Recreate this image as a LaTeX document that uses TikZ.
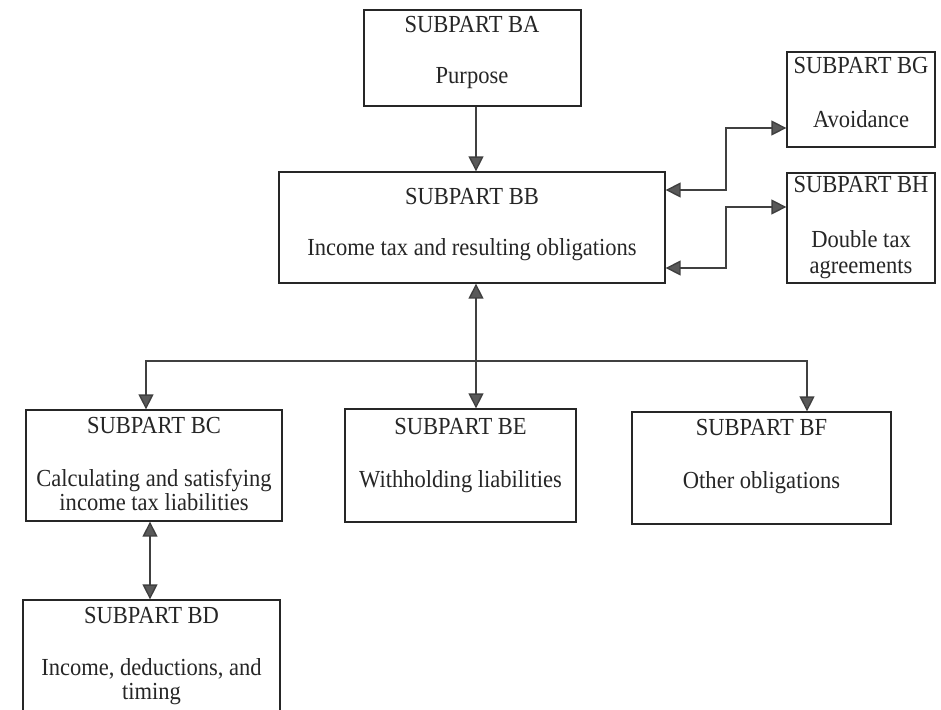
\documentclass[tikz,border=0pt]{standalone}
\usepackage{fontspec}
\setmainfont[FakeStretch=0.92]{Liberation Serif}
\usetikzlibrary{arrows.meta,calc}
\tikzset{
  box/.style={draw=black!85, line width=1.3pt, rectangle, inner sep=0pt},
  txt/.style={anchor=base, inner sep=0pt, text=black!85, font=\fontsize{24.5}{28}\selectfont},
  conn/.style={draw=black!75, line width=1.4pt},
  tri/.tip={Triangle[length=15pt,width=15pt,fill=black!65]}
}
\begin{document}
\begin{tikzpicture}[x=1pt,y=-1pt]
\clip (0,0) rectangle (941,709);
\fill[white] (0,0) rectangle (941,709);
% boxes
\node[box, minimum width=217pt, minimum height=96pt] (ba) at (472.5,58) {};
\node[box, minimum width=386pt, minimum height=111pt] (bb) at (472,227.5) {};
\node[box, minimum width=148pt, minimum height=95pt] (bg) at (861,99.5) {};
\node[box, minimum width=148pt, minimum height=110pt] (bh) at (861,228) {};
\node[box, minimum width=256pt, minimum height=111pt] (bc) at (154,465.5) {};
\node[box, minimum width=231pt, minimum height=113pt] (be) at (460.5,465.5) {};
\node[box, minimum width=259pt, minimum height=112pt] (bf) at (761.5,468) {};
\node[box, minimum width=257pt, minimum height=120pt] (bd) at (151.5,660) {};
% texts
\node[txt] (ba1) at (472,33) {SUBPART BA};
\node[txt] (ba2) at (472,83) {Purpose};
\node[txt] (bb1) at (472,204) {SUBPART BB};
\node[txt] (bb2) at (472,255) {Income tax and resulting obligations};
\node[txt] (bg1) at (861,74) {SUBPART BG};
\node[txt] (bg2) at (861,127) {Avoidance};
\node[txt] (bh1) at (861,192) {SUBPART BH};
\node[txt] (bh2) at (861,247) {Double tax};
\node[txt] (bh3) at (861,273) {agreements};
\node[txt] (bc1) at (154,433) {SUBPART BC};
\node[txt] (bc2) at (154,486) {Calculating and satisfying};
\node[txt] (bc3) at (154,510) {income tax liabilities};
\node[txt] (be1) at (460.5,434) {SUBPART BE};
\node[txt] (be2) at (460.5,487) {Withholding liabilities};
\node[txt] (bf1) at (761.5,435) {SUBPART BF};
\node[txt] (bf2) at (761.5,488) {Other obligations};
\node[txt] (bd1) at (151.5,623) {SUBPART BD};
\node[txt] (bd2) at (151.5,675) {Income, deductions, and};
\node[txt] (bd3) at (151.5,699) {timing};
% helper coordinates
\coordinate (vx) at (476,0);
\coordinate (jx) at (726,0);
\coordinate (g1) at (0,190);
\coordinate (g2) at (0,128);
\coordinate (h1) at (0,268);
\coordinate (h2) at (0,207);
\coordinate (bus) at (476,361);
\coordinate (bcx) at (146,0);
\coordinate (bfx) at (807,0);
\coordinate (cdx) at (150,0);
% connectors
\draw[conn,-{tri}] (ba.south -| vx) -- (bb.north -| vx);
\draw[conn,{tri}-{tri}] (bb.east |- g1) -- (jx |- g1) -- (jx |- g2) -- (bg.west |- g2);
\draw[conn,{tri}-{tri}] (bb.east |- h1) -- (jx |- h1) -- (jx |- h2) -- (bh.west |- h2);
\draw[conn,{tri}-{tri}] (bb.south -| bus) -- (be.north -| bus);
\draw[conn,{tri}-{tri}] (bc.north -| bcx) -- (bcx |- bus) -- (bfx |- bus) -- (bf.north -| bfx);
\draw[conn,{tri}-{tri}] (bc.south -| cdx) -- (bd.north -| cdx);
\end{tikzpicture}
\end{document}
